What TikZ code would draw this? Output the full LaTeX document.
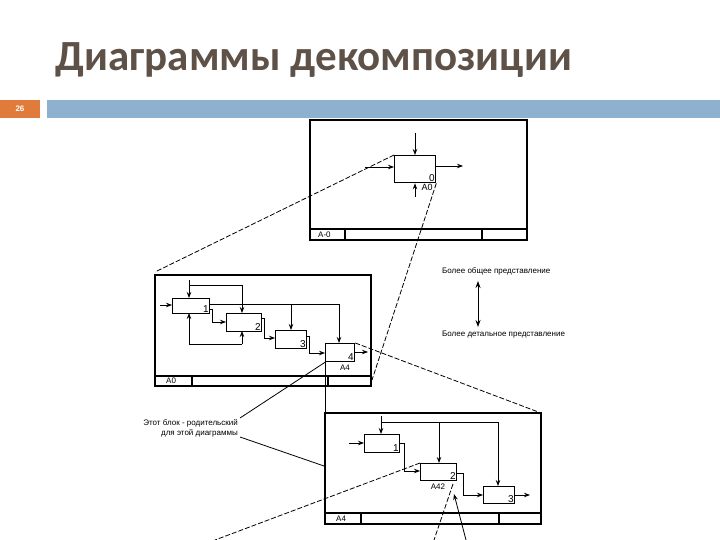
\documentclass[tikz,border=0pt]{standalone}
\usepackage{fontspec}
\setmainfont{Liberation Sans}
\newfontfamily\titlefont{Carlito}
\usetikzlibrary{arrows.meta}
\definecolor{titlec}{HTML}{5E5248}
\definecolor{barblue}{HTML}{8EB1D0}
\definecolor{numor}{HTML}{E07B3C}
\begin{document}
\begin{tikzpicture}[x=1pt,y=-1pt,
  frm/.style={line width=1.3pt},
  blk/.style={draw,line width=1.3pt,minimum width=0pt,inner sep=0pt},
  ln/.style={line width=0.8pt},
  ar/.style={line width=0.8pt,-{Stealth[length=6pt,width=4.5pt]}},
  dsh/.style={line width=0.8pt,dash pattern=on 5pt off 2pt},
  num/.style={font=\fontsize{10}{10}\selectfont,anchor=south east,inner sep=1.5pt},
  lbl/.style={font=\fontsize{8}{8}\selectfont,inner sep=0pt}]
\useasboundingbox (0,0) rectangle (720,540);
\node[text=titlec,font=\titlefont\fontsize{43}{43}\selectfont\bfseries,anchor=west] (title) at (52,60) {Диаграммы декомпозиции};
\fill[numor] (0,100) rectangle (40,118);
\node[text=white,font=\fontsize{8}{8}\selectfont\bfseries] (pg) at (20,109) {26};
\fill[barblue] (47,100) rectangle (720,118);
% ---- top frame
\draw[frm] (310,120) rectangle (527,240);
\draw[frm] (310,229) -- (527,229) (345,229) -- (345,240) (482,229) -- (482,240);
\node[lbl,anchor=west] (lA0m) at (318,235) {A-0};
\node[blk,minimum width=41pt,minimum height=27pt,anchor=north west] (b0) at (394,155) {};
\node[num] at (b0.south east) {0};
\node[lbl,font=\fontsize{9}{9}\selectfont] (t0) at (427,187) {A0};
\coordinate (i0) at (365,167); \coordinate (o0) at (463,166);
\coordinate (c0) at (415,133); \coordinate (m0) at (415,197);
\draw[ar] (i0) -- (i0-|b0.west);
\draw[ar] (b0.east|-o0) -- (o0);
\draw[ar] (c0) -- (c0|-b0.north);
\draw[ar] (m0) -- (m0|-b0.south);
% ---- middle frame
\draw[frm] (155,275) rectangle (371,386);
\draw[frm] (155,376) -- (371,376) (192,376) -- (192,386) (328,376) -- (328,386);
\node[lbl,anchor=west] (lA0) at (166,381) {A0};
\node[blk,minimum width=37pt,minimum height=15pt,anchor=north west] (b1) at (172,298) {};
\node[num] at (b1.south east) {1};
\node[blk,minimum width=35pt,minimum height=18pt,anchor=north west] (b2) at (226,313) {};
\node[num] at (b2.south east) {2};
\node[blk,minimum width=31pt,minimum height=18pt,anchor=north west] (b3) at (275,330) {};
\node[num] at (b3.south east) {3};
\node[blk,minimum width=29pt,minimum height=18pt,anchor=north west] (b4) at (325,343) {};
\node[num] at (b4.south east) {4};
\node[lbl] (t4) at (345,368) {A4};
\draw[ar] (160,305) -- (b1.west|-0,305);
\draw[ar] (189,280) -- (189,298);
\draw[ln] (189,285) -- (242,285);
\draw[ar] (242,285) -- (242,313);
\draw[ar] (189,344) -- (189,313);
\draw[ln] (189,344) -- (242,344);
\draw[ar] (242,344) -- (242,331);
\draw[ln] (209,304) -- (339,304);
\draw[ar] (339,304) -- (339,343);
\draw[ar] (291,304) -- (291,330);
\draw[ar] (209,309) -- (212,309) -- (212,322) -- (226,322);
\draw[ar] (261,318) -- (264,318) -- (264,338) -- (275,338);
\draw[ar] (306,336) -- (309,336) -- (309,353) -- (325,353);
\draw[ar] (354,352) -- (368,352);
% ---- bottom frame
\draw[frm] (325,413) rectangle (541,524);
\draw[frm] (325,513) -- (541,513) (361,513) -- (361,524) (499,513) -- (499,524);
\node[lbl,anchor=west] (lA4) at (336,519) {A4};
\node[blk,minimum width=35pt,minimum height=18pt,anchor=north west] (c1) at (364,434) {};
\node[num] at (c1.south east) {1};
\node[blk,minimum width=36pt,minimum height=17pt,anchor=north west] (c2) at (420,463) {};
\node[num] at (c2.south east) {2};
\node[blk,minimum width=31pt,minimum height=17pt,anchor=north west] (c3) at (483,486) {};
\node[num] at (c3.south east) {3};
\node[lbl] (t42) at (438,487) {A42};
\draw[ar] (349,443) -- (364,443);
\draw[ar] (381,416) -- (381,434);
\draw[ln] (381,422) -- (498,422);
\draw[ar] (439,422) -- (439,463);
\draw[ar] (498,422) -- (498,486);
\draw[ar] (399,443) -- (404,443) -- (404,471) -- (420,471);
\draw[ar] (456,473) -- (463,473) -- (463,495) -- (483,495);
\draw[ar] (514,495) -- (530,495);
% ---- connectors between levels
\draw[dsh] (b0.north west) -- (155,272);
\draw[dsh] (b0.south east) -- (372,380);
\draw[dsh] (b4.north east) -- (541,413);
\draw[ln] (b4.south west) -- (325,413);
\draw[dsh] (c2.north west) -- (215,540);
\draw[dsh] (453,484) -- (434,540);
\draw[ar] (466,540) -- (454,494);
% ---- label
\node[lbl,align=right,anchor=east] (lab) at (238,428) {Этот блок - родительский\\[2pt]для этой диаграммы};
\draw[ln] (240,418) -- (b4.south west);
\draw[ln] (240,437) -- (324,466);
% ---- right legend
\node[lbl,anchor=west] (gen) at (442,271) {Более общее представление};
\node[lbl,anchor=west] (det) at (442,335) {Более детальное представление};
\draw[line width=1pt,{Stealth[length=7pt,width=5pt]}-{Stealth[length=7pt,width=5pt]}] (478,281) -- (478,327);
\end{tikzpicture}
\end{document}
